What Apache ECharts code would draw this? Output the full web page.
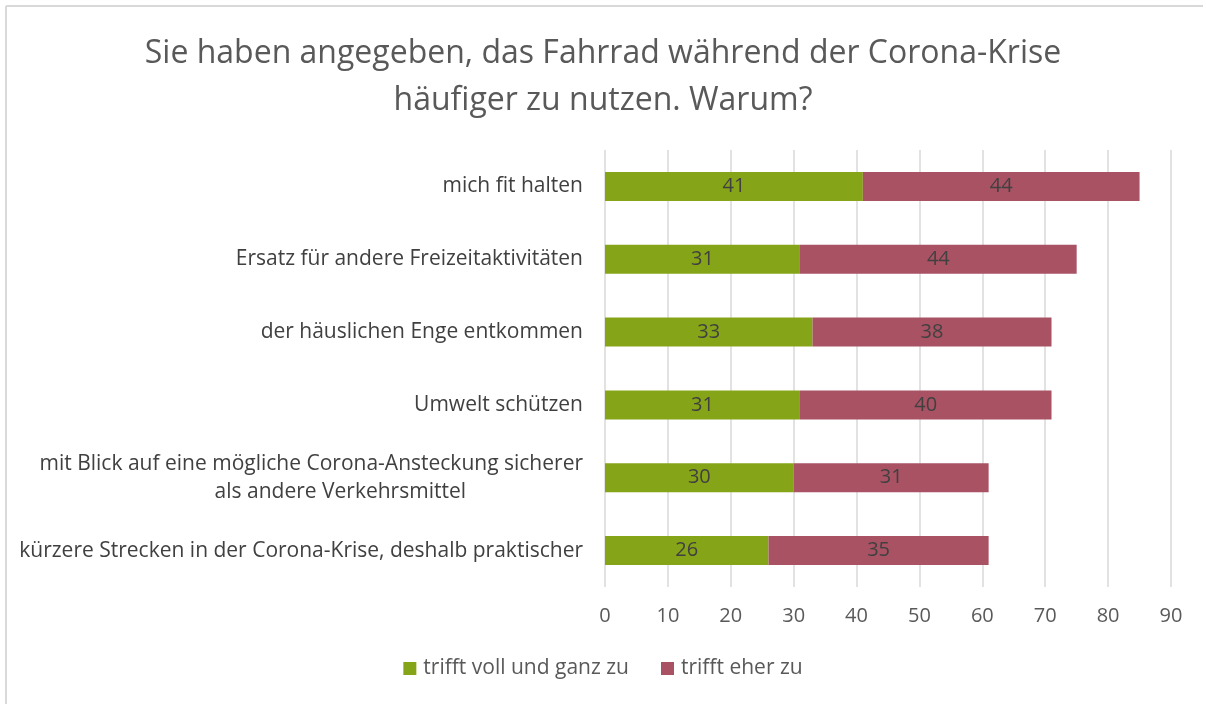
<!DOCTYPE html>
<html>
<head>
<meta charset="utf-8">
<script src="https://cdn.jsdelivr.net/npm/echarts@6/dist/echarts.min.js"></script>
<style>
  html, body { margin: 0; padding: 0; background: #ffffff; }
  #chart { width: 1206px; height: 704px; }
</style>
</head>
<body>
<div id="chart"></div>
<script>
// Gründe für häufigere Fahrradnutzung während der Corona-Krise (Anteile in %)
const categories = [
  'kürzere Strecken in der Corona-Krise, deshalb praktischer',
  'mit Blick auf eine mögliche Corona-Ansteckung sicherer\nals andere Verkehrsmittel',
  'Umwelt schützen',
  'der häuslichen Enge entkommen',
  'Ersatz für andere Freizeitaktivitäten',
  'mich fit halten'
];
const seriesNames = ['trifft voll und ganz zu', 'trifft eher zu'];
const vollUndGanz = [26, 30, 31, 33, 31, 41];
const eherZu = [35, 31, 40, 38, 44, 44];
const xTicks = [0, 10, 20, 30, 40, 50, 60, 70, 80, 90];

const FONT = 'Open Sans';
const chart = echarts.init(document.getElementById('chart'));

function catLabel(v) {
  const parts = v.split('\n');
  if (parts.length === 1) return '{a|' + parts[0] + '}';
  return '{a|' + parts[0] + '}\n{b|' + parts[1] + '}';
}

chart.setOption({
  backgroundColor: '#ffffff',
  animation: false,
  title: {
    text: 'Sie haben angegeben, das Fahrrad während der Corona-Krise\nhäufiger zu nutzen. Warum?',
    left: 'center',
    top: 25,
    textStyle: {
      fontFamily: FONT,
      fontSize: 32,
      fontWeight: 'normal',
      color: '#595959',
      lineHeight: 47
    }
  },
  legend: {
    bottom: 20,
    left: 'center',
    itemWidth: 13,
    itemHeight: 13,
    itemGap: 32,
    icon: 'rect',
    textStyle: { fontFamily: FONT, fontSize: 21, color: '#595959', padding: [0, 0, 0, 2] },
    data: seriesNames
  },
  grid: { left: 605, right: 35, top: 150, bottom: 117, containLabel: false },
  xAxis: {
    type: 'value',
    min: xTicks[0],
    max: xTicks[xTicks.length - 1],
    interval: 10,
    axisLine: { show: false },
    axisTick: { show: false },
    splitLine: { lineStyle: { color: '#d9d9d9', width: 1.5 } },
    axisLabel: {
      fontFamily: FONT, fontSize: 20, color: '#595959', margin: 19
    }
  },
  yAxis: {
    type: 'category',
    data: categories,
    axisLine: { show: false },
    axisTick: { show: false },
    axisLabel: {
      margin: 22,
      align: 'right',
      formatter: catLabel,
      rich: {
        a: { fontFamily: FONT, fontSize: 21, color: '#404040', lineHeight: 28 },
        b: { fontFamily: FONT, fontSize: 21, color: '#404040', lineHeight: 28, padding: [0, 117, 0, 0] }
      }
    }
  },
  series: [
    {
      name: seriesNames[0],
      type: 'bar',
      stack: 'total',
      barWidth: 29,
      data: vollUndGanz,
      itemStyle: { color: '#86a418' },
      label: {
        show: true, position: 'inside',
        fontFamily: FONT, fontSize: 20, color: '#404040'
      }
    },
    {
      name: seriesNames[1],
      type: 'bar',
      stack: 'total',
      barWidth: 29,
      data: eherZu,
      itemStyle: { color: '#a85263' },
      label: {
        show: true, position: 'inside',
        fontFamily: FONT, fontSize: 20, color: '#404040'
      }
    }
  ],
  graphic: [
    { type: 'line', shape: { x1: 6, y1: 6, x2: 1203, y2: 6 }, style: { stroke: '#d9d9d9', lineWidth: 2 } },
    { type: 'line', shape: { x1: 6, y1: 6, x2: 6, y2: 704 }, style: { stroke: '#d9d9d9', lineWidth: 2 } }
  ]
});
</script>
</body>
</html>
